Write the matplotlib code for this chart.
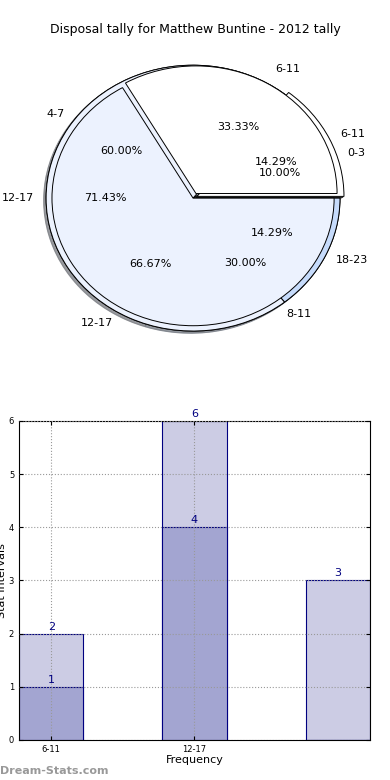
import numpy as np
import matplotlib
matplotlib.use("Agg")
import matplotlib.pyplot as plt

# Pie data (counts): three overlaid pies
pie_a_labels = ["6-11", "12-17"]
pie_a_values = [1, 2]
pie_b_labels = ["6-11", "12-17", "18-23"]
pie_b_values = [1, 5, 1]
pie_c_labels = ["0-3", "4-7", "8-11"]
pie_c_values = [1, 6, 3]

# Bar data
bar_cats = ["6-11", "12-17", ""]
bar_total = [2, 6, 3]
bar_part = [1, 4, 0]

TITLE = "Disposal tally for Matthew Buntine - 2012 tally"
PIE_COLORS = ["#ffffff", "#ecf2fe", "#c6dbfb"]

fig = plt.figure(figsize=(3.9, 7.8), dpi=100)
fig.text(0.5, 1 - 30 / 780, TITLE, ha="center", va="center", fontsize=9)

# ── pie ──────────────────────────────────────────────────────────────
ax = fig.add_axes([0.024, 0.533, 0.942, 0.426])
for labels, vals, r, ex, ld in [(pie_c_labels, pie_c_values, 1.0, 0.02, 1.08),
                                (pie_b_labels, pie_b_values, 1.0, 0.03, 1.08),
                                (pie_a_labels, pie_a_values, 0.96, 0.04, 1.13)]:
    explode = [ex] + [0] * (len(vals) - 1)
    ax.pie(vals, labels=labels, colors=PIE_COLORS[:len(vals)], radius=r,
           explode=explode, autopct="%.2f%%", pctdistance=0.6,
           labeldistance=ld,
           shadow=dict(ox=-0.012, oy=-0.012, shade=0.5),
           wedgeprops=dict(edgecolor="black", linewidth=0.7),
           textprops=dict(fontsize=8))
ax.set_aspect("auto")
ax.set_xlim(-1.25, 1.25)
ax.set_ylim(-1.25, 1.25)

# ── bars ─────────────────────────────────────────────────────────────
bx = fig.add_axes([0.0487, 0.0513, 0.9, 0.409])
x = np.arange(len(bar_cats))
w = 0.45
bx.bar(x, bar_total, w, align="edge", color="#ccccE4", edgecolor="#000080",
       linewidth=0.8, zorder=1)
bx.bar(x, bar_part, w, align="edge", color="#a3a5d1", edgecolor="#000080",
       linewidth=0.8, zorder=1.5)
for i in range(len(x)):
    bx.text(x[i] + w / 2, bar_total[i] + 0.04, str(bar_total[i]), ha="center",
            va="bottom", color="#000080", fontsize=8)
    if bar_part[i] > 0:
        bx.text(x[i] + w / 2, bar_part[i] + 0.04, str(bar_part[i]), ha="center",
                va="bottom", color="#000080", fontsize=8, zorder=4)
bx.set_xlim(0, len(x) - 1 + w)
bx.set_ylim(0, 6)
bx.set_xticks(x[:2] + w / 2)
bx.set_xticklabels(bar_cats[:2], fontsize=6)
bx.set_yticks(range(7))
bx.tick_params(axis="y", labelsize=6)
bx.tick_params(direction="in", top=True, right=True, length=3)
bx.grid(True, linestyle=":", color="#999999", linewidth=0.8, zorder=2)
bx.set_axisbelow(False)
bx.set_xlabel("Frequency", fontsize=8, labelpad=1)
bx.set_ylabel("Stat Intervals", fontsize=8, labelpad=1)

fig.text(0.0, 1 - 771 / 780, "Dream-Stats.com", ha="left", va="center",
         fontsize=8, color="#999999", fontweight="bold")

fig.savefig("out.png", dpi=100)
